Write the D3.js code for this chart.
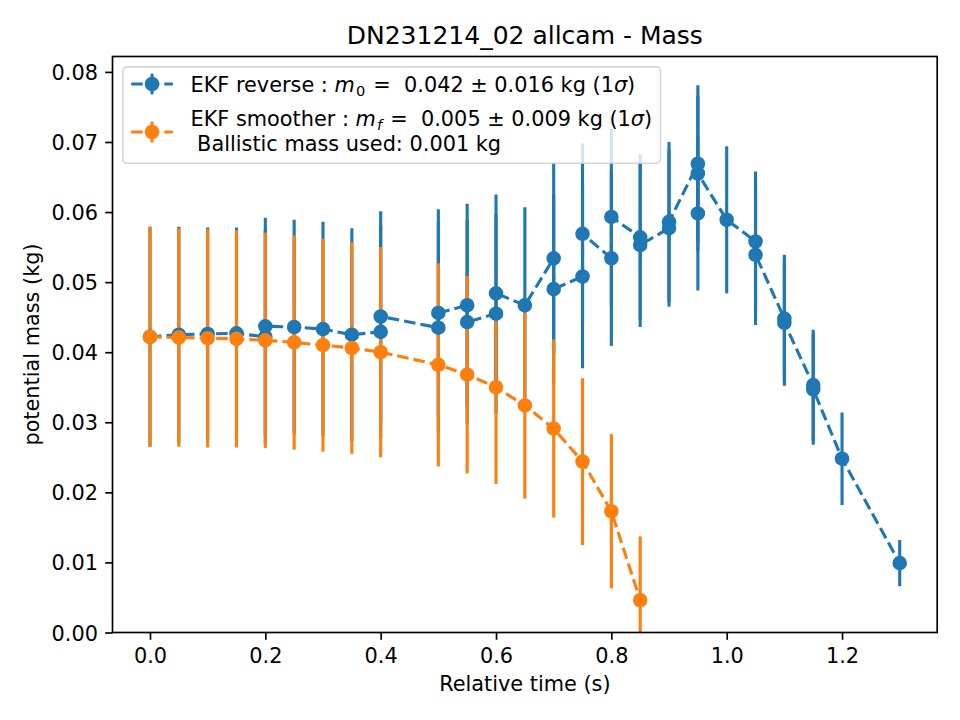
<!DOCTYPE html>
<html><head><meta charset="utf-8">
<script src="https://cdn.jsdelivr.net/npm/d3@7/dist/d3.min.js"></script>
<style>
body{margin:0;background:#fff}
text{font-family:"DejaVu Sans",sans-serif;white-space:pre}
</style>
</head><body>
<svg id="chart" width="960" height="720"></svg>
<script>
// ---------- data ----------
const xTicks = [0.0, 0.2, 0.4, 0.6, 0.8, 1.0, 1.2];
const yTicks = [0.00, 0.01, 0.02, 0.03, 0.04, 0.05, 0.06, 0.07, 0.08];

const reverseTime  = [0.00,0.05,0.10,0.15,0.20,0.20,0.25,0.30,0.35,0.40,0.40,0.50,0.50,0.55,0.55,0.60,0.60,0.65,0.70,0.70,
                      0.75,0.75,0.80,0.80,0.85,0.85,0.90,0.90,0.95,0.95,0.95,1.00,1.05,1.05,1.10,1.10,1.15,1.15,1.20,1.30];
const reverseMass  = [0.0422,0.0425,0.0426,0.0427,0.0422,0.0437,0.0436,0.0433,0.0425,0.0429,0.0451,0.0435,0.0456,0.0467,0.0443,0.0455,0.0484,0.0467,0.0534,0.0490,
                      0.0508,0.0569,0.0534,0.0593,0.0564,0.0553,0.0577,0.0586,0.0669,0.0598,0.0655,0.0589,0.0558,0.0539,0.0448,0.0442,0.0353,0.0347,0.0248,0.0099];
const reverseSigma = [0.0157,0.0154,0.0152,0.0151,0.0153,0.0155,0.0153,0.0153,0.0152,0.0152,0.0150,0.0150,0.0148,0.0145,0.0145,0.0142,0.0141,0.0140,0.0136,0.0135,
                      0.0131,0.0129,0.0125,0.0126,0.0118,0.0117,0.0112,0.0114,0.0112,0.0110,0.0111,0.0105,0.0100,0.0100,0.0091,0.0090,0.0079,0.0079,0.0066,0.0033];

const smootherTime  = [0.00,0.05,0.10,0.15,0.20,0.25,0.30,0.35,0.40,0.50,0.55,0.60,0.65,0.70,0.75,0.80,0.85];
const smootherMass  = [0.0422,0.0421,0.0420,0.0419,0.0417,0.0414,0.0410,0.0406,0.0400,0.0382,0.0368,0.0350,0.0324,0.0291,0.0244,0.0173,0.0046];
const smootherSigma = [0.0157,0.0156,0.0156,0.0155,0.0154,0.0153,0.0152,0.0151,0.0150,0.0145,0.0141,0.0138,0.0133,0.0127,0.0119,0.0110,0.0091];

const titleText = "DN231214_02 allcam - Mass";
const xLabel = "Relative time (s)";
const yLabel = "potential mass (kg)";
const legendRows = [
  [[["EKF reverse : ",""],["m","i"],["0","s"],[" =  0.042 ± 0.016 kg (1",""],["σ","i"],[")",""]]],
  [[["EKF smoother : ",""],["m","i"],["f","si"],[" =  0.005 ± 0.009 kg (1",""],["σ","i"],[")",""]],
   [[" Ballistic mass used: 0.001 kg",""]]]
];
const colors = ["#1f77b4", "#ff7f0e"];

// ---------- layout ----------
const M = {left:112.5, right:937.2, top:56.5, bottom:632.5};
const FS = 20.83;
const svg = d3.select("#chart");
const x = d3.scaleLinear().domain([-0.065, 1.365]).range([M.left, M.right]);
const y = d3.scaleLinear().domain([0, 0.0822]).range([M.bottom, M.top]);

svg.append("defs").append("clipPath").attr("id","plotclip")
  .append("rect").attr("x",M.left).attr("y",M.top).attr("width",M.right-M.left).attr("height",M.bottom-M.top);

const rev = reverseTime.map((t,i)=>({t, m:reverseMass[i], s:reverseSigma[i]}));
const smo = smootherTime.map((t,i)=>({t, m:smootherMass[i], s:smootherSigma[i]}));

const plot = svg.append("g").attr("clip-path","url(#plotclip)");

function bars(data, color){
  plot.append("g").selectAll("line").data(data).join("line")
    .attr("x1",d=>x(d.t)).attr("x2",d=>x(d.t))
    .attr("y1",d=>y(d.m-d.s)).attr("y2",d=>y(d.m+d.s))
    .attr("stroke",color).attr("stroke-width",3.125);
}
const lineGen = d3.line().x(d=>x(d.t)).y(d=>y(d.m));
function series(data, color){
  plot.append("path").datum(data).attr("d",lineGen)
    .attr("fill","none").attr("stroke",color).attr("stroke-width",3.125)
    .attr("stroke-dasharray","11.56,5");
  plot.append("g").selectAll("circle").data(data).join("circle")
    .attr("cx",d=>x(d.t)).attr("cy",d=>y(d.m)).attr("r",6.25)
    .attr("fill",color).attr("stroke",color).attr("stroke-width",2.08);
}
bars(rev, colors[0]);
bars(smo, colors[1]);
series(rev, colors[0]);
series(smo, colors[1]);

// spines
svg.append("rect").attr("x",M.left).attr("y",M.top).attr("width",M.right-M.left).attr("height",M.bottom-M.top)
  .attr("fill","none").attr("stroke","#000").attr("stroke-width",1.67);

// axes
const xa = svg.append("g").attr("transform",`translate(0,${M.bottom})`)
  .call(d3.axisBottom(x).tickValues(xTicks).tickFormat(d3.format(".1f")).tickSize(7.3).tickPadding(7.3));
const ya = svg.append("g").attr("transform",`translate(${M.left},0)`)
  .call(d3.axisLeft(y).tickValues(yTicks).tickFormat(d3.format(".2f")).tickSize(7.3).tickPadding(7.3));
[xa,ya].forEach(a=>{
  a.select(".domain").remove();
  a.selectAll(".tick line").attr("stroke","#000").attr("stroke-width",1.67);
  a.selectAll(".tick text").attr("fill","#000").attr("font-size",FS).attr("font-family","DejaVu Sans");
});
xa.selectAll(".tick text").attr("dy","0.78em");
ya.selectAll(".tick text").attr("dy","0.36em");

// labels
svg.append("text").attr("x",(M.left+M.right)/2).attr("y",44).attr("text-anchor","middle")
  .attr("font-size",25).text(titleText);
svg.append("text").attr("x",(M.left+M.right)/2).attr("y",691).attr("text-anchor","middle")
  .attr("font-size",FS).text(xLabel);
svg.append("text").attr("transform",`translate(39,${(M.top+M.bottom)/2}) rotate(-90)`).attr("text-anchor","middle")
  .attr("font-size",FS).text(yLabel);

// legend
const lg = svg.append("g");
const frame = lg.append("rect").attr("x",122.9).attr("y",66.9).attr("rx",4.2).attr("ry",4.2)
  .attr("height",96.4).attr("fill","#fff").attr("fill-opacity",0.8)
  .attr("stroke","#cccccc").attr("stroke-opacity",0.8).attr("stroke-width",1.6);
const baselines = [[92],[126],[150.5]].length ? [[92],[126,150.5]] : null;
const handleY = [84, 132];
const textX = 190.5;
let maxW = 0;
legendRows.forEach((row,ri)=>{
  row.forEach((line,li)=>{
    const t = lg.append("text").attr("x",textX).attr("y",baselines[ri][li]).attr("font-size",FS).attr("fill","#000");
    let shifted = 0;
    line.forEach(([str,st])=>{
      const sp = t.append("tspan").text(str);
      const sub = st.includes("s");
      if(st.includes("i")) sp.attr("font-style","italic");
      if(sub){ sp.attr("font-size",FS*0.7).attr("dy",4.2).attr("dx",1.2); shifted = 4.2; }
      else if(shifted){ sp.attr("dy",-shifted).attr("dx",1.5); shifted = 0; }
    });
    maxW = Math.max(maxW, t.node().getComputedTextLength() + (line.length>1 ? 2.7 : 0));
  });
  // handle
  const hy = handleY[ri], c = colors[ri];
  lg.append("line").attr("x1",131.2).attr("x2",172.9).attr("y1",hy).attr("y2",hy)
    .attr("stroke",c).attr("stroke-width",3.125).attr("stroke-dasharray","11.56,5");
  lg.append("line").attr("x1",152.05).attr("x2",152.05).attr("y1",hy-10.4).attr("y2",hy+10.4)
    .attr("stroke",c).attr("stroke-width",3.125);
  lg.append("circle").attr("cx",152.05).attr("cy",hy).attr("r",6.25)
    .attr("fill",c).attr("stroke",c).attr("stroke-width",2.08);
});
frame.attr("width", textX - 122.9 + maxW + 8.3);
</script>
</body></html>
